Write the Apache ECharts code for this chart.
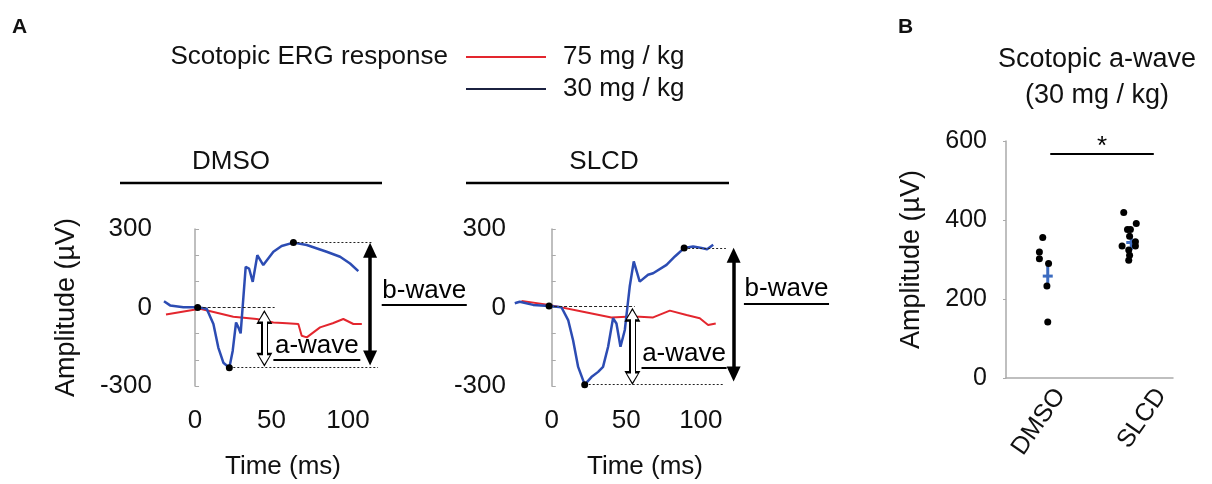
<!DOCTYPE html>
<html>
<head>
<meta charset="utf-8">
<script src="https://cdn.jsdelivr.net/npm/echarts@6/dist/echarts.min.js"></script>
<style>
  html, body { margin: 0; padding: 0; background: #fff; }
  #main { width: 1212px; height: 484px; }
</style>
</head>
<body>
<div id="main"></div>
<script>
// ERG traces + scotopic a-wave amplitude
const FONT = 'Liberation Sans';
const RED = '#e3262e';
const BLUE = '#2c4cb3';
const NAVY = '#1b2140';
const EB_BLUE = '#3d6cc0';

// --- panel A: traces, [time ms, amplitude µV] ---
const dmsoRed = [[-19, -27], [3.3, -5], [25, -35], [40.3, -44], [51.2, -57], [60, -60], [67.5, -63],
  [69.7, -108], [73, -114], [81.7, -76], [90, -60], [96.9, -44], [103.5, -63], [109, -63]];
const dmsoBlue = [[-20.3, 24], [-16.3, 8], [-7.6, 1], [1.7, 1], [7.6, -5], [12, -63], [15.2, -153],
  [18.5, -211], [22.4, -230], [24.6, -166], [26.8, -57], [28.3, -76], [29.8, -99], [31.6, 40],
  [33.1, 155], [35.3, 149], [37.7, 98], [40.7, 200], [44.6, 162], [51.2, 213], [56.6, 235],
  [64.3, 248], [73, 239], [86, 213], [94.8, 194], [101.3, 168], [106.7, 139]];
const slcdRed = [[-20.3, 25], [-1.8, 10], [21, -16], [40, -38], [50.1, -35], [59, -35], [68, -38],
  [79.2, -12], [90.4, -29], [99.3, -41], [104.9, -67], [110, -61]];
const slcdBlue = [[-24.8, 16], [-21.5, 22], [-12.5, 10], [-1.8, 6], [6.5, 1], [11, -48], [14.3, -125],
  [17.7, -227], [22.1, -295], [26.6, -266], [31.1, -246], [34.4, -227], [37.8, -150], [41.1, -41],
  [43.4, -61], [46.1, -150], [49, -86], [52.3, 80], [55, 176], [59, 99], [64.6, 125], [68, 131],
  [77, 163], [82.6, 195], [88.8, 227], [94.8, 233], [100.5, 227], [104.2, 223], [108.3, 240]];

// baseline / a-wave trough / b-wave peak picked on the 30 mg/kg trace
const dmsoPicks = [[1.7, 0], [22.4, -230], [64.3, 248]];
const slcdPicks = [[-1.8, 6], [22.1, -295], [88.8, 227]];

const timeTicks = [0, 50, 100];
const ampTicks = [-300, 0, 300];

// --- panel B ---
const bCats = ['DMSO', 'SLCD'];
const bDmso = [356, 319, 302, 290, 233, 142];
const bDmsoJit = [-0.06, -0.10, -0.10, 0.01, -0.01, 0.0];
const bSlcd = [419, 391, 376, 376, 359, 334, 345, 334, 324, 311, 298];
const bSlcdJit = [-0.09, 0.06, -0.045, -0.01, -0.02, -0.11, 0.05, 0.05, -0.03, -0.02, -0.03];
const bMeanSem = [[258, 226, 290], [343, 324, 360]]; // mean, low, high
const bLabelAt = [0.65, 1.86];

const txt = { fontFamily: FONT, fontSize: 26, color: '#111' };

function seg(p1, p2, style, extra) {
  return [Object.assign({ coord: p1, lineStyle: style }, extra || {}), { coord: p2 }];
}
function arrowSeg(x, y1, y2, color, width, size) {
  return [
    { coord: [x, y1], lineStyle: { color, width, type: 'solid' }, symbol: 'triangle', symbolSize: size },
    { coord: [x, y2], symbol: 'triangle', symbolSize: size }
  ];
}
function underline(x1, x2, y, text) {
  return seg([x1, y], [x2, y], { color: '#000', width: 2, type: 'solid' }, {
    label: { show: true, position: 'insideMiddleTop', formatter: text, distance: 1, ...txt, color: '#000' }
  });
}

function annotations(picks, o) {
  const [base, trough, peak] = picks;
  const dash = { color: '#222', width: 1, type: [3, 2] };
  const dot = { color: '#222', width: 1, type: [2, 2] };
  return {
    markPoint: {
      silent: true, symbol: 'circle', symbolSize: 7,
      itemStyle: { color: '#000' }, label: { show: false },
      data: picks.map(p => ({ coord: p }))
    },
    markLine: {
      silent: true, animation: false, symbol: ['none', 'none'],
      label: { show: false },
      data: [
        seg(base, [o.dashEnd, base[1]], dash),
        seg(trough, [o.lowEnd, trough[1]], dot),
        seg(peak, [o.highEnd, peak[1]], dot),
        arrowSeg(o.aX, o.aTop, o.aBot, '#000', 7, [16, 14]),
        arrowSeg(o.aX, o.aTop, o.aBot, '#fff', 4, [11, 9]),
        arrowSeg(o.bX, o.bTop, o.bBot, '#000', 3.5, [14, 15]),
        underline(o.aLine[0], o.aLine[1], o.aLine[2], 'a-wave'),
        underline(o.bLine[0], o.bLine[1], o.bLine[2], 'b-wave')
      ]
    }
  };
}

function traceX(idx, min, max, name, pad) {
  return {
    type: 'value', gridIndex: idx, min, max,
    axisLine: { show: false }, axisTick: { show: false }, splitLine: { show: false },
    axisLabel: { customValues: timeTicks, margin: 22, ...txt },
    name, nameLocation: 'middle', nameGap: 68,
    nameTextStyle: { ...txt, padding: pad }
  };
}
function traceY(idx, margin, name) {
  return {
    type: 'value', gridIndex: idx, min: -300, max: 300, interval: 100,
    axisLine: { show: true, lineStyle: { color: '#aaa', width: 1.5 } },
    axisTick: { show: true, inside: true, length: 4, lineStyle: { color: '#aaa' } },
    splitLine: { show: false },
    axisLabel: { margin, ...txt, formatter: v => (ampTicks.includes(v) ? String(v) : '') },
    name, nameLocation: 'middle', nameGap: 82, nameTextStyle: { ...txt, fontSize: 27 }
  };
}

const head = { ...txt, fontWeight: 'normal' };
const chart = echarts.init(document.getElementById('main'));
chart.setOption({
  animation: false,
  backgroundColor: '#fff',
  title: [
    { text: 'A', left: 12, top: 17, padding: 0, textStyle: { fontFamily: FONT, fontSize: 21, fontWeight: 'bold', color: '#111' } },
    { text: 'B', left: 898, top: 17, padding: 0, textStyle: { fontFamily: FONT, fontSize: 21, fontWeight: 'bold', color: '#111' } },
    { text: 'Scotopic ERG response', left: 448, top: 44, padding: 0, textAlign: 'right', textStyle: head },
    { text: 'DMSO', left: 231, top: 149, padding: 0, textAlign: 'center', textStyle: head },
    { text: 'SLCD', left: 604, top: 149, padding: 0, textAlign: 'center', textStyle: head },
    { text: 'Scotopic a-wave', left: 1097, top: 46, padding: 0, textAlign: 'center', textStyle: { ...head, fontSize: 27 } },
    { text: '(30 mg / kg)', left: 1097, top: 82, padding: 0, textAlign: 'center', textStyle: { ...head, fontSize: 27 } }
  ],
  legend: {
    left: 466, top: 44, padding: 0, orient: 'vertical', selectedMode: false,
    icon: 'rect', itemWidth: 80, itemHeight: 2, itemGap: 6,
    textStyle: { ...txt, padding: [0, 0, 0, 12], lineHeight: 26 },
    data: [
      { name: '75 mg / kg', itemStyle: { color: RED } },
      { name: '30 mg / kg', itemStyle: { color: NAVY } }
    ]
  },
  graphic: [
    { type: 'line', shape: { x1: 120, y1: 183, x2: 382, y2: 183 }, style: { stroke: '#000', lineWidth: 2.5 } },
    { type: 'line', shape: { x1: 466, y1: 183, x2: 729, y2: 183 }, style: { stroke: '#000', lineWidth: 2.5 } }
  ],
  grid: [
    { left: 162, top: 229, width: 308, height: 157 },
    { left: 513, top: 229, width: 322, height: 157 },
    { left: 1006, top: 141, width: 167, height: 237 }
  ],
  xAxis: [
    traceX(0, -21.6, 179.7, 'Time (ms)', [0, 66, 0, 0]),
    traceX(1, -26, 190, 'Time (ms)', [0, 58, 0, 0]),
    {
      type: 'value', gridIndex: 2, min: 0, max: 2,
      axisLine: { show: true, lineStyle: { color: '#aaa', width: 1.5 } },
      axisTick: { show: false }, splitLine: { show: false },
      axisLabel: {
        customValues: bLabelAt, rotate: 55, margin: 13, ...txt, fontSize: 25,
        formatter: v => bCats[v < 1 ? 0 : 1]
      }
    }
  ],
  yAxis: [
    traceY(0, 10, 'Amplitude (µV)'),
    traceY(1, 7, ''),
    {
      type: 'value', gridIndex: 2, min: 0, max: 600, interval: 200,
      axisLine: { show: true, lineStyle: { color: '#aaa', width: 1.5 } },
      axisTick: { show: true, length: 3, lineStyle: { color: '#aaa' } },
      splitLine: { show: false },
      axisLabel: { margin: 19, ...txt, fontSize: 25 },
      name: 'Amplitude (µV)', nameLocation: 'middle', nameGap: 81, nameTextStyle: { ...txt, fontSize: 27 }
    }
  ],
  series: [
    { name: '75 mg / kg', type: 'line', xAxisIndex: 0, yAxisIndex: 0, data: dmsoRed, showSymbol: false,
      lineStyle: { color: RED, width: 2 }, itemStyle: { color: RED }, clip: false, z: 2 },
    Object.assign({ name: '30 mg / kg', type: 'line', xAxisIndex: 0, yAxisIndex: 0, data: dmsoBlue, showSymbol: false,
      lineStyle: { color: BLUE, width: 2.5 }, itemStyle: { color: BLUE }, clip: false, z: 3 },
      annotations(dmsoPicks, { dashEnd: 52, lowEnd: 119.6, highEnd: 116.3,
        aX: 45.3, aTop: -36, aBot: -200, bX: 114.4, bTop: 219, bBot: -193,
        aLine: [51.2, 108, -200], bLine: [122, 177.6, 11.6] })),
    { name: '75 mg / kg', type: 'line', xAxisIndex: 1, yAxisIndex: 1, data: slcdRed, showSymbol: false,
      lineStyle: { color: RED, width: 2 }, itemStyle: { color: RED }, clip: false, z: 2 },
    Object.assign({ name: '30 mg / kg', type: 'line', xAxisIndex: 1, yAxisIndex: 1, data: slcdBlue, showSymbol: false,
      lineStyle: { color: BLUE, width: 2.5 }, itemStyle: { color: BLUE }, clip: false, z: 3 },
      annotations(slcdPicks, { dashEnd: 55.7, lowEnd: 115.4, highEnd: 116.8,
        aX: 54.1, aTop: -28, aBot: -269, bX: 122, bTop: 200, bBot: -254,
        aLine: [60.2, 117.3, -231], bLine: [128.9, 186, 16] })),
    {
      type: 'custom', xAxisIndex: 2, yAxisIndex: 2, z: 2,
      data: bMeanSem.map((m, i) => [i + 0.5, m[0], m[1], m[2]]),
      renderItem: (params, api) => {
        const x = api.value(0);
        const pm = api.coord([x, api.value(1)]);
        const plo = api.coord([x, api.value(2)]);
        const phi = api.coord([x, api.value(3)]);
        return { type: 'group', children: [
          { type: 'line', shape: { x1: plo[0], y1: plo[1], x2: phi[0], y2: phi[1] }, style: { stroke: EB_BLUE, lineWidth: 3 } },
          { type: 'line', shape: { x1: pm[0] - 5, y1: pm[1], x2: pm[0] + 5, y2: pm[1] }, style: { stroke: EB_BLUE, lineWidth: 3 } }
        ] };
      }
    },
    {
      type: 'scatter', xAxisIndex: 2, yAxisIndex: 2, z: 3, symbolSize: 7,
      itemStyle: { color: '#000', opacity: 1 },
      data: bDmso.map((v, i) => [0.5 + bDmsoJit[i], v]).concat(bSlcd.map((v, i) => [1.5 + bSlcdJit[i], v])),
      markLine: {
        silent: true, symbol: ['none', 'none'],
        lineStyle: { color: '#000', width: 2, type: 'solid' },
        label: { show: true, position: 'insideMiddleTop', formatter: '*', distance: -6, ...txt, color: '#000' },
        data: [[{ coord: [0.53, 567] }, { coord: [1.77, 567] }]]
      }
    }
  ]
});
</script>
</body>
</html>
